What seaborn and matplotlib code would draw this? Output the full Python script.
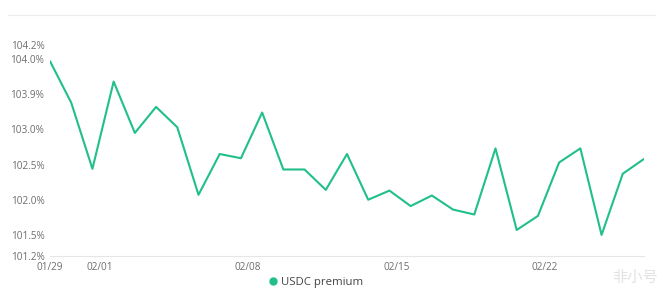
import matplotlib
matplotlib.use("Agg")
import matplotlib.pyplot as plt
import matplotlib.dates as mdates
from matplotlib.lines import Line2D
import seaborn as sns
import pandas as pd

# ---- data ----
start_date = "2023-01-29 16:00"
premium = [103.97, 103.38, 102.44, 103.68, 102.95, 103.32, 103.03, 102.07, 102.65, 102.59,
           103.24, 102.43, 102.43, 102.14, 102.65, 102.00, 102.13, 101.91, 102.06, 101.86,
           101.79, 102.73, 101.57, 101.77, 102.53, 102.73, 101.50, 102.37, 102.58]
series_name = "USDC premium"
x_tick_labels = ["01/29", "02/01", "02/08", "02/15", "02/22"]
y_ticks = [101.2, 101.5, 102.0, 102.5, 103.0, 103.5, 104.0, 104.2]
y_tick_labels = ["101.2%", "101.5%", "102.0%", "102.5%", "103.0%", "103.9%", "104.0%", "104.2%"]
watermark = "非小号"

dates = pd.date_range(start_date, periods=len(premium), freq="D")
df = pd.DataFrame({"date": dates, "value": premium})

sns.set_theme(style="white")
plt.rcParams["font.family"] = ["Open Sans", "DejaVu Sans"]

line_color = "#20bf8c"
fig = plt.figure(figsize=(6.63, 2.97), dpi=100)
ax = fig.add_axes([50 / 663, 41 / 297, 594 / 663, 211 / 297])

sns.lineplot(data=df, x="date", y="value", ax=ax, color=line_color, linewidth=1.5)

ax.set_xlim(dates[0], dates[-1])
ax.set_ylim(y_ticks[0], y_ticks[-1])

xt = [dates[0]] + [pd.Timestamp("2023/" + s) for s in x_tick_labels[1:]]
ax.set_xticks(mdates.date2num(xt))
ax.set_xticklabels(x_tick_labels)
ax.set_yticks(y_ticks)
ax.set_yticklabels(y_tick_labels)

ax.tick_params(axis="both", length=0, labelsize=7.2, labelcolor="#6e6e6e")
ax.tick_params(axis="x", pad=4)
ax.tick_params(axis="y", pad=4)
for lab in ax.get_yticklabels():
    lab.set_horizontalalignment("right")
ax.set_xlabel("")
ax.set_ylabel("")
for s in ["top", "right", "left"]:
    ax.spines[s].set_visible(False)
ax.spines["bottom"].set_color("#e6e6e6")
ax.spines["bottom"].set_linewidth(0.8)
ax.grid(False)
if ax.get_legend():
    ax.get_legend().remove()

# top separator line
fig.add_artist(Line2D([8 / 663, 655 / 663], [1 - 15 / 297, 1 - 15 / 297],
                      transform=fig.transFigure, color="#ececec", linewidth=0.8))

handle = Line2D([], [], marker="o", linestyle="none", color=line_color, markersize=5)
fig.legend([handle], [series_name], loc="center", bbox_to_anchor=(315 / 663, 1 - 282 / 297),
           frameon=False, fontsize=8.2, handletextpad=0.2, labelcolor="#444444",
           handlelength=1.0)

fig.text(658 / 663, 1 - 277 / 297, watermark, ha="right", va="center", fontsize=11,
         color="#e2e2e2", family=["Noto Sans CJK SC", "DejaVu Sans"])

fig.savefig("out.png", dpi=100, facecolor="white")
